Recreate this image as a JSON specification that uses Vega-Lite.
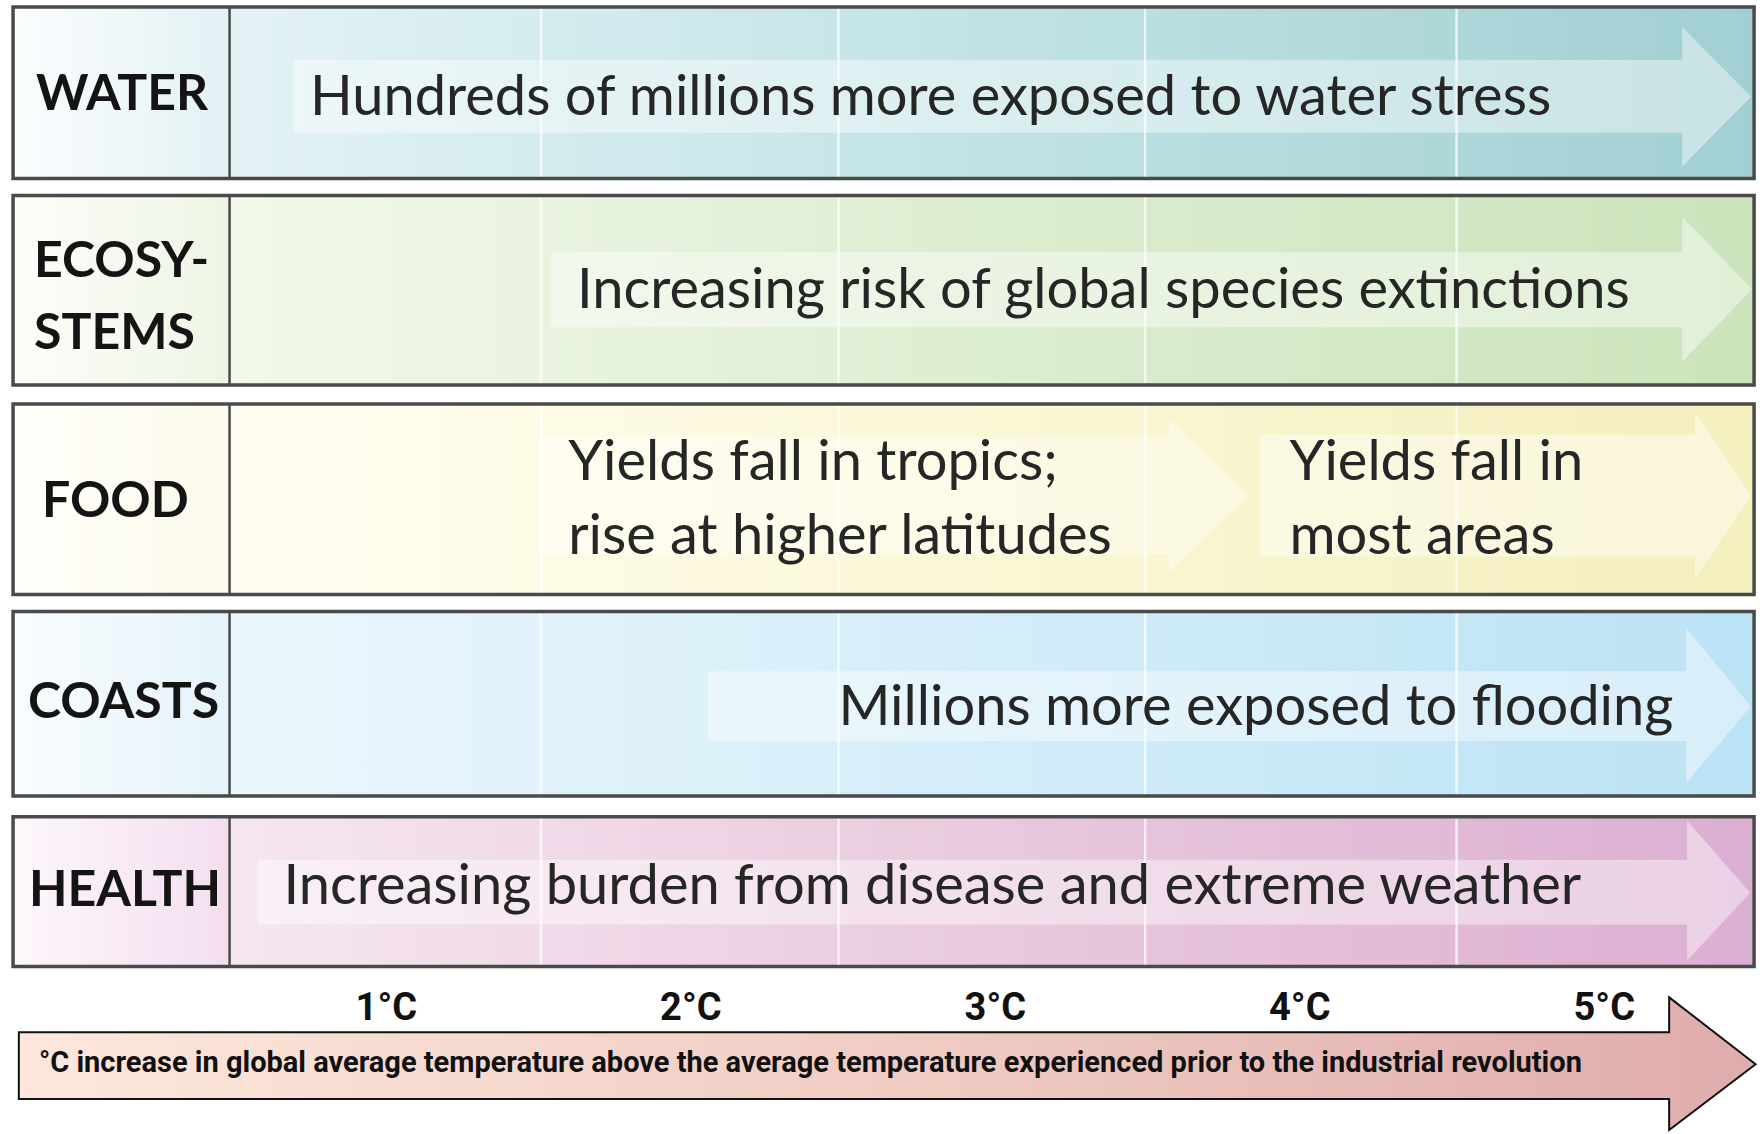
{
  "$schema": "https://vega.github.io/schema/vega-lite/v6.json",
  "width": 1760,
  "height": 1134,
  "padding": 0,
  "autosize": {"type": "fit", "contains": "padding"},
  "background": "white",
  "config": {"view": {"stroke": null}, "axis": {"disable": true}},
  "datasets": {
    "rows": [
      {"cat": "WATER", "top": 7, "bottom": 179, "left": -0.226, "divider": 0.485, "right": 5.492},
      {"cat": "ECOSYSTEMS", "top": 196, "bottom": 386, "left": -0.226, "divider": 0.485, "right": 5.492},
      {"cat": "FOOD", "top": 405, "bottom": 596, "left": -0.226, "divider": 0.485, "right": 5.492},
      {"cat": "COASTS", "top": 613, "bottom": 798, "left": -0.226, "divider": 0.485, "right": 5.492},
      {"cat": "HEALTH", "top": 819, "bottom": 969, "left": -0.226, "divider": 0.485, "right": 5.492}
    ],
    "cols": [
      {"t": 1.508, "top": 7, "bottom": 969},
      {"t": 2.485, "top": 7, "bottom": 969},
      {"t": 3.492, "top": 7, "bottom": 969},
      {"t": 4.515, "top": 7, "bottom": 969}
    ],
    "arrows": [
      {"id": "water", "t": 0.695, "hi": 60, "lo": 133},
      {"id": "water", "t": 5.256, "hi": 60, "lo": 133},
      {"id": "water", "t": 5.2561, "hi": 27, "lo": 167},
      {"id": "water", "t": 5.482, "hi": 97, "lo": 97},
      {"id": "eco", "t": 1.541, "hi": 253, "lo": 328},
      {"id": "eco", "t": 5.256, "hi": 253, "lo": 328},
      {"id": "eco", "t": 5.2561, "hi": 217, "lo": 363},
      {"id": "eco", "t": 5.485, "hi": 290, "lo": 290},
      {"id": "food1", "t": 1.515, "hi": 438, "lo": 556},
      {"id": "food1", "t": 3.57, "hi": 438, "lo": 556},
      {"id": "food1", "t": 3.5701, "hi": 420, "lo": 574},
      {"id": "food1", "t": 3.83, "hi": 497, "lo": 497},
      {"id": "food2", "t": 3.869, "hi": 436, "lo": 558},
      {"id": "food2", "t": 5.298, "hi": 436, "lo": 558},
      {"id": "food2", "t": 5.2981, "hi": 413, "lo": 580},
      {"id": "food2", "t": 5.482, "hi": 497, "lo": 497},
      {"id": "coasts", "t": 2.056, "hi": 673, "lo": 743},
      {"id": "coasts", "t": 5.269, "hi": 673, "lo": 743},
      {"id": "coasts", "t": 5.2691, "hi": 630, "lo": 785},
      {"id": "coasts", "t": 5.482, "hi": 708, "lo": 708},
      {"id": "health", "t": 0.577, "hi": 862, "lo": 927},
      {"id": "health", "t": 5.272, "hi": 862, "lo": 927},
      {"id": "health", "t": 5.2721, "hi": 823, "lo": 963},
      {"id": "health", "t": 5.479, "hi": 895, "lo": 895}
    ],
    "labels": [
      {"text": "WATER", "t": -0.151, "base": 110},
      {"text": "ECOSY-", "t": -0.157, "base": 278},
      {"text": "STEMS", "t": -0.157, "base": 350},
      {"text": "FOOD", "t": -0.131, "base": 518},
      {"text": "COASTS", "t": -0.177, "base": 720},
      {"text": "HEALTH", "t": -0.174, "base": 908}
    ],
    "impacts": [
      {"text": "Hundreds of millions more exposed to water stress", "t": 0.749, "base": 115},
      {"text": "Increasing risk of global species extinctions", "t": 1.626, "base": 309},
      {"text": "Yields fall in tropics;", "t": 1.597, "base": 481},
      {"text": "rise at higher latitudes", "t": 1.597, "base": 555},
      {"text": "Yields fall in", "t": 3.966, "base": 481},
      {"text": "most areas", "t": 3.966, "base": 555},
      {"text": "Millions more exposed to flooding", "t": 2.485, "base": 727},
      {"text": "Increasing burden from disease and extreme weather", "t": 0.662, "base": 906}
    ],
    "ticks": [
      {"label": "1°C", "t": 1, "base": 1023},
      {"label": "2°C", "t": 2, "base": 1023},
      {"label": "3°C", "t": 3, "base": 1023},
      {"label": "4°C", "t": 4, "base": 1023},
      {"label": "5°C", "t": 5, "base": 1023}
    ],
    "axisArrow": [
      {"t": -0.207, "hi": 1035, "lo": 1102},
      {"t": 5.213, "hi": 1035, "lo": 1102},
      {"t": 5.2131, "hi": 1000, "lo": 1133},
      {"t": 5.497, "hi": 1067, "lo": 1067}
    ],
    "note": [
      {"text": "°C increase in global average temperature above the average temperature experienced prior to the industrial revolution", "t": -0.141, "base": 1075}
    ]
  },
  "encoding": {
    "x": {"type": "quantitative", "scale": {"domain": [-0.2689, 5.5016], "nice": false, "zero": false}},
    "y": {"type": "quantitative", "scale": {"domain": [0, 1134], "reverse": true, "nice": false, "zero": false}}
  },
  "layer": [
    {"data": {"name": "rows"}, "transform": [{"filter": "datum.cat == 'WATER'"}],
     "mark": {"type": "rect", "fill": {"gradient": "linear", "x1": 0, "y1": 0, "x2": 1, "y2": 0, "stops": [{"offset": 0, "color": "#e3f2f5"}, {"offset": 0.45, "color": "#c4e4e7"}, {"offset": 1, "color": "#a1cfd2"}]}},
     "encoding": {"x": {"field": "divider", "type": "quantitative"}, "x2": {"field": "right"}, "y": {"field": "top", "type": "quantitative"}, "y2": {"field": "bottom"}}},
    {"data": {"name": "rows"}, "transform": [{"filter": "datum.cat == 'ECOSYSTEMS'"}],
     "mark": {"type": "rect", "fill": {"gradient": "linear", "x1": 0, "y1": 0, "x2": 1, "y2": 0, "stops": [{"offset": 0, "color": "#f2f8ea"}, {"offset": 0.45, "color": "#dfeed3"}, {"offset": 1, "color": "#cbe4bb"}]}},
     "encoding": {"x": {"field": "divider", "type": "quantitative"}, "x2": {"field": "right"}, "y": {"field": "top", "type": "quantitative"}, "y2": {"field": "bottom"}}},
    {"data": {"name": "rows"}, "transform": [{"filter": "datum.cat == 'FOOD'"}],
     "mark": {"type": "rect", "fill": {"gradient": "linear", "x1": 0, "y1": 0, "x2": 1, "y2": 0, "stops": [{"offset": 0, "color": "#fffdf1"}, {"offset": 0.45, "color": "#fbf8d8"}, {"offset": 1, "color": "#f4efbe"}]}},
     "encoding": {"x": {"field": "divider", "type": "quantitative"}, "x2": {"field": "right"}, "y": {"field": "top", "type": "quantitative"}, "y2": {"field": "bottom"}}},
    {"data": {"name": "rows"}, "transform": [{"filter": "datum.cat == 'COASTS'"}],
     "mark": {"type": "rect", "fill": {"gradient": "linear", "x1": 0, "y1": 0, "x2": 1, "y2": 0, "stops": [{"offset": 0, "color": "#ebf6fc"}, {"offset": 0.45, "color": "#d6eef9"}, {"offset": 1, "color": "#bbe2f5"}]}},
     "encoding": {"x": {"field": "divider", "type": "quantitative"}, "x2": {"field": "right"}, "y": {"field": "top", "type": "quantitative"}, "y2": {"field": "bottom"}}},
    {"data": {"name": "rows"}, "transform": [{"filter": "datum.cat == 'HEALTH'"}],
     "mark": {"type": "rect", "fill": {"gradient": "linear", "x1": 0, "y1": 0, "x2": 1, "y2": 0, "stops": [{"offset": 0, "color": "#f6e6f1"}, {"offset": 0.45, "color": "#eaccdf"}, {"offset": 1, "color": "#dbafd2"}]}},
     "encoding": {"x": {"field": "divider", "type": "quantitative"}, "x2": {"field": "right"}, "y": {"field": "top", "type": "quantitative"}, "y2": {"field": "bottom"}}},
    {"data": {"name": "rows"}, "transform": [{"filter": "datum.cat == 'WATER'"}],
     "mark": {"type": "rect", "fill": {"gradient": "linear", "x1": 0, "y1": 0, "x2": 1, "y2": 0, "stops": [{"offset": 0, "color": "#fbfdfe"}, {"offset": 1, "color": "#e3f1f4"}]}},
     "encoding": {"x": {"field": "left", "type": "quantitative"}, "x2": {"field": "divider"}, "y": {"field": "top", "type": "quantitative"}, "y2": {"field": "bottom"}}},
    {"data": {"name": "rows"}, "transform": [{"filter": "datum.cat == 'ECOSYSTEMS'"}],
     "mark": {"type": "rect", "fill": {"gradient": "linear", "x1": 0, "y1": 0, "x2": 1, "y2": 0, "stops": [{"offset": 0, "color": "#fcfdf9"}, {"offset": 1, "color": "#eef5e5"}]}},
     "encoding": {"x": {"field": "left", "type": "quantitative"}, "x2": {"field": "divider"}, "y": {"field": "top", "type": "quantitative"}, "y2": {"field": "bottom"}}},
    {"data": {"name": "rows"}, "transform": [{"filter": "datum.cat == 'FOOD'"}],
     "mark": {"type": "rect", "fill": {"gradient": "linear", "x1": 0, "y1": 0, "x2": 1, "y2": 0, "stops": [{"offset": 0, "color": "#fffefa"}, {"offset": 1, "color": "#fcfaec"}]}},
     "encoding": {"x": {"field": "left", "type": "quantitative"}, "x2": {"field": "divider"}, "y": {"field": "top", "type": "quantitative"}, "y2": {"field": "bottom"}}},
    {"data": {"name": "rows"}, "transform": [{"filter": "datum.cat == 'COASTS'"}],
     "mark": {"type": "rect", "fill": {"gradient": "linear", "x1": 0, "y1": 0, "x2": 1, "y2": 0, "stops": [{"offset": 0, "color": "#f9fcfe"}, {"offset": 1, "color": "#e5f3fa"}]}},
     "encoding": {"x": {"field": "left", "type": "quantitative"}, "x2": {"field": "divider"}, "y": {"field": "top", "type": "quantitative"}, "y2": {"field": "bottom"}}},
    {"data": {"name": "rows"}, "transform": [{"filter": "datum.cat == 'HEALTH'"}],
     "mark": {"type": "rect", "fill": {"gradient": "linear", "x1": 0, "y1": 0, "x2": 1, "y2": 0, "stops": [{"offset": 0, "color": "#fdf7fb"}, {"offset": 1, "color": "#f3def0"}]}},
     "encoding": {"x": {"field": "left", "type": "quantitative"}, "x2": {"field": "divider"}, "y": {"field": "top", "type": "quantitative"}, "y2": {"field": "bottom"}}},
    {"data": {"name": "cols"},
     "mark": {"type": "rule", "color": "white", "strokeWidth": 2.5, "opacity": 0.7},
     "encoding": {"x": {"field": "t", "type": "quantitative"}, "y": {"field": "top", "type": "quantitative"}, "y2": {"field": "bottom"}}},
    {"data": {"name": "arrows"},
     "mark": {"type": "area", "color": "white", "opacity": 0.42, "interpolate": "linear"},
     "encoding": {"x": {"field": "t", "type": "quantitative"}, "y": {"field": "hi", "type": "quantitative"}, "y2": {"field": "lo"}, "detail": {"field": "id"}}},
    {"data": {"name": "rows"},
     "mark": {"type": "rect", "fill": null, "filled": false, "stroke": "#4a4a4a", "strokeWidth": 3.5},
     "encoding": {"x": {"field": "left", "type": "quantitative"}, "x2": {"field": "right"}, "y": {"field": "top", "type": "quantitative"}, "y2": {"field": "bottom"}}},
    {"data": {"name": "rows"},
     "mark": {"type": "rule", "color": "#4a4a4a", "strokeWidth": 2.5},
     "encoding": {"x": {"field": "divider", "type": "quantitative"}, "y": {"field": "top", "type": "quantitative"}, "y2": {"field": "bottom"}}},
    {"data": {"name": "labels"},
     "mark": {"type": "text", "font": "Lato", "fontWeight": "bold", "fontSize": 50, "align": "left", "baseline": "alphabetic", "color": "#141414"},
     "encoding": {"x": {"field": "t", "type": "quantitative"}, "y": {"field": "base", "type": "quantitative"}, "text": {"field": "text"}}},
    {"data": {"name": "impacts"},
     "mark": {"type": "text", "font": "Lato", "fontSize": 56, "align": "left", "baseline": "alphabetic", "color": "#262626"},
     "encoding": {"x": {"field": "t", "type": "quantitative"}, "y": {"field": "base", "type": "quantitative"}, "text": {"field": "text"}}},
    {"data": {"name": "axisArrow"},
     "mark": {"type": "area", "interpolate": "linear", "stroke": "#111111", "strokeWidth": 2, "fill": {"gradient": "linear", "x1": 0, "y1": 0, "x2": 1, "y2": 0, "stops": [{"offset": 0, "color": "#fde7dc"}, {"offset": 0.5, "color": "#f0cdc4"}, {"offset": 1, "color": "#dfacac"}]}},
     "encoding": {"x": {"field": "t", "type": "quantitative"}, "y": {"field": "hi", "type": "quantitative"}, "y2": {"field": "lo"}}},
    {"data": {"name": "ticks"},
     "mark": {"type": "text", "font": "Roboto", "fontWeight": "bold", "fontSize": 38, "align": "center", "baseline": "alphabetic", "color": "#111111"},
     "encoding": {"x": {"field": "t", "type": "quantitative"}, "y": {"field": "base", "type": "quantitative"}, "text": {"field": "label"}}},
    {"data": {"name": "note"},
     "mark": {"type": "text", "font": "Roboto", "fontWeight": "bold", "fontSize": 29, "align": "left", "baseline": "alphabetic", "color": "#111111"},
     "encoding": {"x": {"field": "t", "type": "quantitative"}, "y": {"field": "base", "type": "quantitative"}, "text": {"field": "text"}}}
  ]
}
